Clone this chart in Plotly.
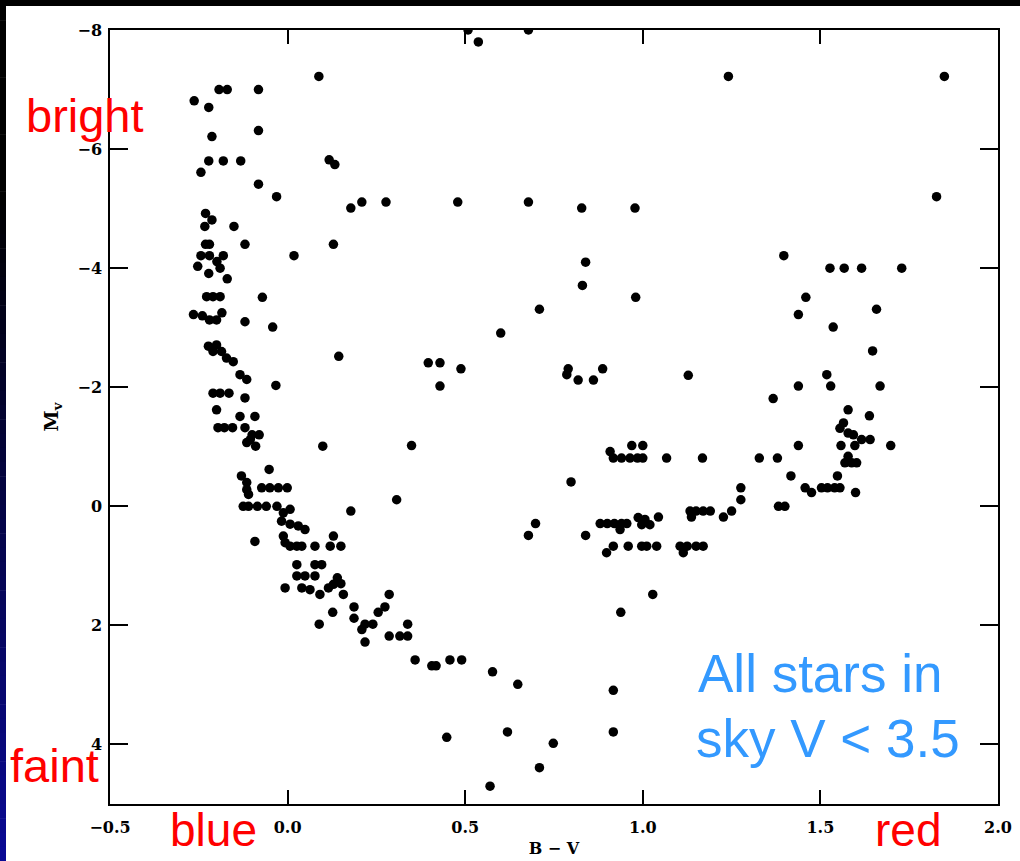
import plotly.graph_objects as go

# ---------------------------------------------------------------
# Colour-magnitude diagram of the bright stars (V < 3.5)
# ---------------------------------------------------------------

# Blue supergiants and upper main sequence
upper_bv = [0.088, -0.193, -0.170, -0.082, -0.263, -0.222, -0.082, -0.213,
            -0.222, -0.181, -0.132, -0.244, -0.082, -0.031, 0.117, 0.133,
            -0.231, -0.213, -0.233, -0.151, -0.231, -0.220, -0.120, 0.129,
            -0.244, -0.220, -0.181, 0.018, -0.253, -0.199, -0.190, -0.222,
            -0.170, -0.228, -0.210, -0.190, -0.071, -0.265, -0.240, -0.220,
            -0.200, -0.185, -0.120, -0.042, 0.144, -0.223, -0.200, -0.186,
            -0.172, -0.153, -0.210, -0.134, -0.115, -0.033]
upper_mv = [-7.22, -7.00, -7.00, -7.00, -6.81, -6.70, -6.31, -6.21,
            -5.80, -5.80, -5.80, -5.61, -5.41, -5.20, -5.82, -5.74,
            -4.92, -4.81, -4.70, -4.70, -4.40, -4.40, -4.40, -4.40,
            -4.21, -4.21, -4.21, -4.21, -4.03, -4.11, -4.00, -3.91,
            -3.82, -3.52, -3.52, -3.52, -3.51, -3.22, -3.20, -3.13,
            -3.13, -3.25, -3.10, -3.01, -2.52, -2.69, -2.71, -2.60,
            -2.49, -2.43, -2.60, -2.21, -2.13, -2.03]

# Main sequence, B stars down to the faint G/K dwarfs
ms_bv = [-0.210, -0.190, -0.165, -0.120, -0.200, -0.134, -0.092, -0.196,
         -0.178, -0.155, -0.120, -0.100, -0.080, -0.115, -0.090, -0.105,
         0.099, -0.052, -0.130, -0.115, -0.115, -0.110, -0.073, -0.050,
         -0.026, -0.001, -0.125, -0.110, -0.085, -0.060, -0.030, -0.012,
         0.007, -0.017, 0.007, 0.030, 0.049, -0.092, -0.012, -0.007,
         0.007, 0.026, 0.040, 0.077, 0.120, 0.150, 0.129, 0.026,
         0.077, 0.096, 0.026, 0.049, 0.077, -0.007, 0.040, 0.063,
         0.091, 0.115, 0.129, 0.140, 0.150, 0.127, 0.089, 0.157,
         0.187, 0.187, 0.209, 0.218, 0.240, 0.218, 0.255, 0.274,
         0.286, 0.286, 0.316, 0.338, 0.338, 0.359, 0.406, 0.418,
         0.457, 0.490, 0.577, 0.648, 0.448, 0.619, 0.748, 0.709,
         0.570, 0.307, 0.178]
ms_mv = [-1.90, -1.90, -1.90, -1.82, -1.62, -1.51, -1.51, -1.32,
         -1.32, -1.32, -1.32, -1.20, -1.20, -1.07, -1.01, -1.12,
         -1.01, -0.62, -0.51, -0.40, -0.28, -0.20, -0.31, -0.31,
         -0.31, -0.31, 0.00, 0.00, 0.00, 0.00, 0.00, 0.11,
         0.05, 0.25, 0.30, 0.33, 0.39, 0.59, 0.50, 0.61,
         0.67, 0.67, 0.67, 0.67, 0.67, 0.67, 0.50, 0.98,
         0.98, 0.98, 1.17, 1.17, 1.17, 1.37, 1.37, 1.40,
         1.48, 1.37, 1.31, 1.20, 1.30, 1.78, 1.98, 1.48,
         1.69, 1.88, 2.07, 1.98, 1.98, 2.28, 1.78, 1.69,
         1.48, 2.18, 2.18, 2.18, 1.98, 2.58, 2.68, 2.68,
         2.58, 2.58, 2.78, 2.99, 3.88, 3.79, 3.98, 4.39,
         4.70, -0.11, 0.08]

# Yellow and red supergiants / bright giants across the top
bright_bv = [0.537, 0.508, 0.678, 0.178, 0.209, 0.277, 0.479, 0.678,
             0.828, 0.978, 0.839, 0.830, 0.980, 0.709, 0.600, 0.396,
             0.429, 0.488, 0.429, 0.790, 0.786, 0.818, 0.861, 0.887,
             0.349, 1.241, 1.849, 1.827, 1.397, 1.527, 1.567, 1.616,
             1.729, 1.459, 1.438, 1.658, 1.536, 1.647, 1.128, 1.518,
             1.529, 1.438, 1.668, 1.367]
bright_mv = [-7.80, -8.00, -8.00, -5.01, -5.11, -5.11, -5.11, -5.11,
             -5.01, -5.01, -4.10, -3.71, -3.51, -3.31, -2.91, -2.41,
             -2.41, -2.31, -2.02, -2.31, -2.21, -2.12, -2.12, -2.31,
             -1.02, -7.22, -7.22, -5.20, -4.21, -4.00, -4.00, -4.00,
             -4.00, -3.51, -3.22, -3.31, -3.01, -2.61, -2.20, -2.21,
             -2.02, -2.02, -2.02, -1.81]

# Giant branch and red clump
giant_bv = [0.908, 0.917, 0.940, 0.969, 1.000, 0.964, 0.985, 1.000,
            1.067, 0.798, 0.698, 0.678, 0.839, 0.880, 0.900, 0.920,
            0.940, 0.955, 0.936, 0.987, 1.006, 1.020, 1.044, 0.997,
            0.898, 0.917, 0.959, 0.997, 1.011, 1.039, 0.917, 0.917,
            0.938, 1.028, 1.578, 1.638, 1.565, 1.555, 1.578, 1.593,
            1.616, 1.640, 1.438, 1.558, 1.597, 1.698, 1.168, 1.328,
            1.379, 1.578, 1.569, 1.588, 1.602, 1.548, 1.417, 1.276,
            1.276, 1.457, 1.475, 1.503, 1.520, 1.540, 1.555, 1.599,
            1.382, 1.400, 1.133, 1.150, 1.170, 1.190, 1.137, 1.227,
            1.250, 1.105, 1.125, 1.150, 1.170, 1.114]
giant_mv = [-0.92, -0.81, -0.81, -1.02, -1.02, -0.81, -0.81, -0.81,
            -0.81, -0.41, 0.29, 0.49, 0.49, 0.29, 0.29, 0.29,
            0.29, 0.29, 0.39, 0.19, 0.22, 0.31, 0.18, 0.31,
            0.78, 0.67, 0.67, 0.67, 0.67, 0.67, 3.09, 3.79,
            1.78, 1.48, -1.62, -1.52, -1.40, -1.31, -1.23, -1.20,
            -1.12, -1.12, -1.02, -1.02, -1.02, -1.02, -0.81, -0.81,
            -0.81, -0.84, -0.73, -0.73, -0.73, -0.51, -0.51, -0.31,
            -0.11, -0.31, -0.23, -0.31, -0.31, -0.31, -0.31, -0.23,
            0.00, 0.00, 0.08, 0.08, 0.08, 0.08, 0.18, 0.18,
            0.08, 0.67, 0.67, 0.67, 0.67, 0.78]

x_ticks = [-0.5, 0.0, 0.5, 1.0, 1.5, 2.0]
x_ticktext = ["\u22120.5", "0.0", "0.5", "1.0", "1.5", "2.0"]
y_ticks = [-8, -6, -4, -2, 0, 2, 4]
y_ticktext = ["\u22128", "\u22126", "\u22124", "\u22122", "0", "2", "4"]

# ---------------------------------------------------------------
W, H = 1020, 861
ML, MR, MT, MB = 110, 22, 30, 57
PW, PH = W - ML - MR, H - MT - MB


def px(xp):
    return (xp - ML) / PW


def py(yp):
    return (H - MB - yp) / PH


fig = go.Figure()
for bv, mv in [(upper_bv, upper_mv), (ms_bv, ms_mv),
               (bright_bv, bright_mv), (giant_bv, giant_mv)]:
    fig.add_trace(go.Scatter(
        x=bv, y=mv, mode="markers",
        marker=dict(color="black", size=9.5, line=dict(width=0)),
        showlegend=False, hoverinfo="skip", cliponaxis=True))

tick_font = dict(family="DejaVu Serif", size=16, color="black", weight="bold")
axis_common = dict(showline=True, linecolor="black", linewidth=1.5,
                   mirror="ticks", ticks="inside", tickwidth=1.5,
                   tickcolor="black", showgrid=False, zeroline=False,
                   automargin=False, tickfont=tick_font)

fig.update_xaxes(range=[-0.5, 2.0], tickvals=x_ticks, ticktext=x_ticktext,
                 ticklen=14, ticklabelstandoff=8,
                 title=dict(text="B \u2212 V", standoff=7,
                            font=dict(family="DejaVu Serif", size=16,
                                      color="black", weight="bold")),
                 **axis_common)
fig.update_yaxes(range=[5, -8], tickvals=y_ticks, ticktext=y_ticktext,
                 ticklen=18, ticklabelstandoff=3,
                 title=dict(text="M<sub>v</sub>", standoff=14,
                            font=dict(family="DejaVu Serif", size=19,
                                      color="black", weight="bold")),
                 **axis_common)

# Slide frame: black band along the top, blue fade down the left edge
shapes = [dict(type="rect", xref="paper", yref="paper",
               x0=px(0), x1=px(W), y0=py(6), y1=py(0),
               fillcolor="black", line=dict(width=0), layer="below")]
n_seg = 60
for i in range(n_seg):
    y0p = 6 + i * (H - 6) / n_seg
    y1p = 6 + (i + 1) * (H - 6) / n_seg
    t = max(0.0, ((y0p + y1p) / 2 - 200) / (H - 200))
    col = "rgb({0},{0},{1})".format(int(10 * t), int(150 * t))
    shapes.append(dict(type="rect", xref="paper", yref="paper",
                       x0=px(0), x1=px(6), y0=py(y1p + 0.5), y1=py(y0p),
                       fillcolor=col, line=dict(width=0), layer="below"))

sans = "Liberation Sans, Arial, sans-serif"
labels = [
    ("bright", 24, 115, 47, "#ff0000"),
    ("faint", 8, 765, 47, "#ff0000"),
    ("blue", 168, 830, 46, "#ff0000"),
    ("red", 873, 830, 46, "#ff0000"),
    ("All stars in", 696, 673, 53, "#3399ff"),
    ("sky V &lt; 3.5", 694, 738, 53, "#3399ff"),
]
annotations = [dict(text=txt, xref="paper", yref="paper",
                    x=px(xl), y=py(yc), xanchor="left", yanchor="middle",
                    showarrow=False, font=dict(family=sans, size=sz, color=c))
               for txt, xl, yc, sz, c in labels]

fig.update_layout(width=W, height=H,
                  margin=dict(l=ML, r=MR, t=MT, b=MB, pad=0),
                  paper_bgcolor="white", plot_bgcolor="white",
                  shapes=shapes, annotations=annotations)

fig.write_html("out.html")
